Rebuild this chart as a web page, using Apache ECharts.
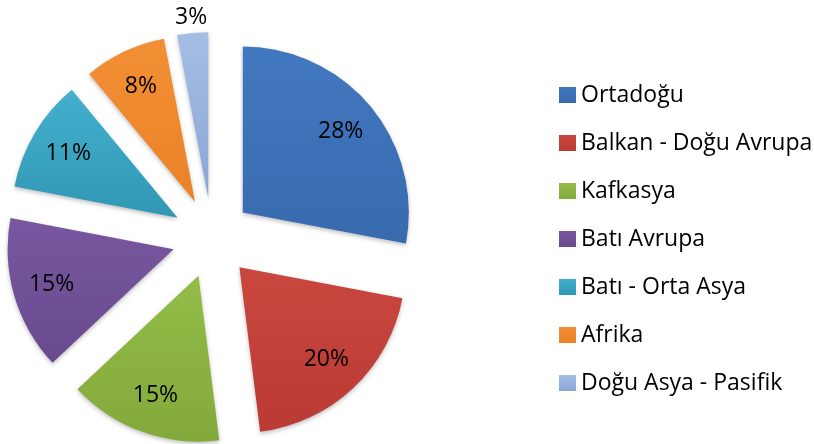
<!DOCTYPE html>
<html>
<head>
<meta charset="utf-8">
<script src="https://cdn.jsdelivr.net/npm/echarts@6/dist/echarts.min.js"></script>
<style>
html,body{margin:0;padding:0;background:#fff;}
#c{width:814px;height:444px;}
</style>
</head>
<body>
<div id="c"></div>
<script>
var categories = ['Ortadoğu', 'Balkan - Doğu Avrupa', 'Kafkasya', 'Batı Avrupa', 'Batı - Orta Asya', 'Afrika', 'Doğu Asya - Pasifik'];
var values = [28, 20, 15, 15, 11, 8, 3];
var baseColors = ['#386AAE', '#BA3A34', '#83A93B', '#694A8E', '#3197B3', '#EA8226', '#8AA6D6'];
var lightColors = ['#4278C0', '#C9473F', '#93BC47', '#7857A0', '#43B0CE', '#F28F35', '#A4BEE6'];

var FONT = '"Open Sans", "Noto Sans", sans-serif';
var CENTER = [212, 238];
var OFFSET = 40;

function grad(i) {
  return new echarts.graphic.LinearGradient(0, 0, 0, 1, [
    { offset: 0, color: lightColors[i] },
    { offset: 1, color: baseColors[i] }
  ]);
}

var mainData = categories.map(function (n, i) {
  return { name: n, value: values[i], selected: true, itemStyle: { color: grad(i) } };
});
var labelData = categories.map(function (n, i) {
  return { name: n, value: values[i], selected: true, label: { show: i !== 6 } };
});
var outerLabelData = categories.map(function (n, i) {
  return { name: n, value: values[i], selected: true, label: { show: i === 6 } };
});

var chart = echarts.init(document.getElementById('c'), null, { renderer: 'canvas' });
chart.setOption({
  animation: false,
  backgroundColor: '#ffffff',
  legend: {
    orient: 'vertical',
    left: 554,
    top: 77,
    itemWidth: 17,
    itemHeight: 16,
    itemGap: 22,
    icon: 'rect',
    selectedMode: false,
    data: categories,
    textStyle: { fontFamily: FONT, fontSize: 23, color: '#000', lineHeight: 26 }
  },
  series: [
    {
      type: 'pie',
      center: CENTER,
      radius: 166,
      startAngle: 90,
      clockwise: true,
      selectedMode: 'multiple',
      selectedOffset: OFFSET,
      silent: true,
      label: { show: false },
      labelLine: { show: false },
      itemStyle: { shadowBlur: 4, shadowColor: 'rgba(0,0,0,0.25)', shadowOffsetY: 2, borderWidth: 0 },
      select: { itemStyle: { borderWidth: 0 } },
      emphasis: { disabled: true },
      data: mainData
    },
    {
      type: 'pie',
      center: CENTER,
      radius: [82, 166],
      startAngle: 90,
      clockwise: true,
      selectedMode: 'multiple',
      selectedOffset: OFFSET,
      silent: true,
      itemStyle: { color: 'transparent', borderWidth: 0 },
      select: { itemStyle: { color: 'transparent', borderWidth: 0 } },
      emphasis: { disabled: true },
      label: { position: 'inside', formatter: '{c}%', fontFamily: FONT, fontSize: 23, color: '#000' },
      labelLine: { show: false },
      data: labelData
    },
    {
      type: 'pie',
      center: CENTER,
      radius: [166, 192],
      startAngle: 90,
      clockwise: true,
      selectedMode: 'multiple',
      selectedOffset: OFFSET,
      silent: true,
      itemStyle: { color: 'transparent', borderWidth: 0 },
      select: { itemStyle: { color: 'transparent', borderWidth: 0 } },
      emphasis: { disabled: true },
      label: { position: 'inside', formatter: '{c}%', fontFamily: FONT, fontSize: 23, color: '#000' },
      labelLine: { show: false },
      data: outerLabelData
    }
  ]
});
</script>
</body>
</html>
